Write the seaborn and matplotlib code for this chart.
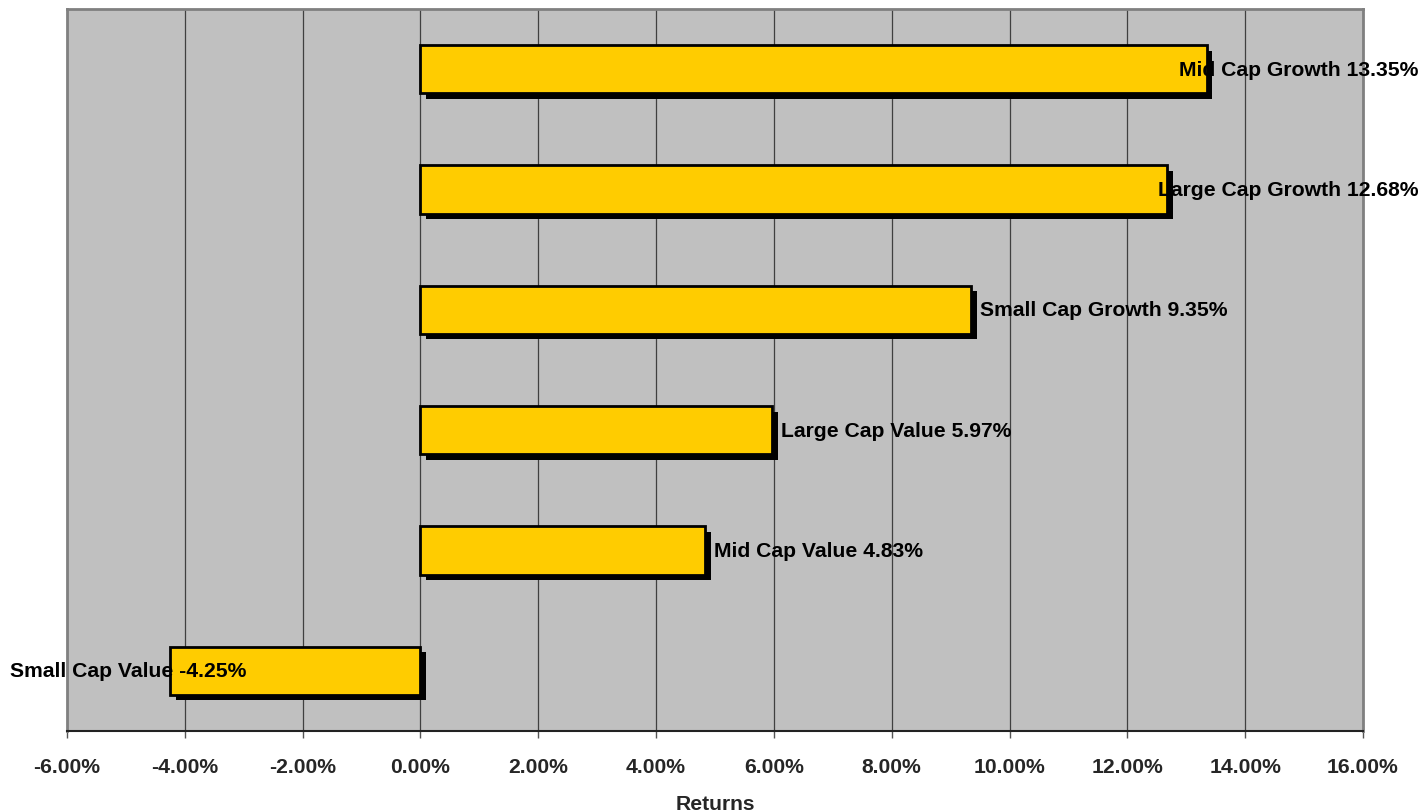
import pandas as pd
import numpy as np
import seaborn as sns
import matplotlib.pyplot as plt
import matplotlib.patheffects as pe
from matplotlib.ticker import FuncFormatter

categories = ["Mid Cap Growth", "Large Cap Growth", "Small Cap Growth",
              "Large Cap Value", "Mid Cap Value", "Small Cap Value"]
returns = [13.35, 12.68, 9.35, 5.97, 4.83, -4.25]
xticks = [-6, -4, -2, 0, 2, 4, 6, 8, 10, 12, 14, 16]

df = pd.DataFrame({"Category": categories, "Returns": returns})

sns.set_theme(style="white")
plt.rcParams['font.family'] = ['Liberation Sans', 'DejaVu Sans']
plt.rcParams['font.weight'] = 'bold'

fig = plt.figure(figsize=(14.21, 8.12), dpi=100)
ax = fig.add_axes([0.04715, 0.09852, 0.9120, 0.88916])
ax.set_facecolor("#C0C0C0")

sns.barplot(data=df, x="Returns", y="Category", orient="h", order=categories,
            color="#FFCC00", saturation=1, width=0.4, edgecolor="black",
            linewidth=2, ax=ax, zorder=3)

# drop shadow like the old excel bars
for bar in ax.patches:
    bar.set_path_effects([pe.SimplePatchShadow(offset=(4, -4), shadow_rgbFace="black", alpha=1.0),
                          pe.Normal()])

ax.set_xlim(-6, 16)
ax.set_ylim(5.5, -0.5)
ax.set_xticks(xticks)
ax.xaxis.set_major_formatter(FuncFormatter(lambda v, p: "{:.2f}%".format(v)))
ax.grid(axis="x", color="#404040", linewidth=0.9, zorder=0)
ax.set_axisbelow(True)
ax.set_yticks([])
ax.set_ylabel("")
ax.set_xlabel("Returns", fontsize=15.2, fontweight="bold", labelpad=13)
ax.tick_params(axis="x", bottom=True, length=5, width=1, color="#555555",
               labelsize=15.2, pad=14)

for s in ["left", "top", "right"]:
    ax.spines[s].set_color("#808080")
    ax.spines[s].set_linewidth(2)
ax.spines["bottom"].set_color("#222222")
ax.spines["bottom"].set_linewidth(1.5)

texts = []
for i, (c, v) in enumerate(zip(categories, returns)):
    if v >= 0:
        t = ax.text(v + 0.15, i, "{} {:.2f}%".format(c, v), ha="left", va="center",
                    fontsize=15.2, fontweight="bold", color="black", zorder=5, clip_on=False)
    else:
        t = ax.text(v - 0.15, i, "{} {:.2f}%".format(c, v), ha="right", va="center",
                    fontsize=15.2, fontweight="bold", color="black", zorder=5, clip_on=False)
    texts.append(t)

# keep labels inside the figure
fig.canvas.draw()
r = fig.canvas.get_renderer()
W = fig.bbox.width
px_per_unit = ax.transData.transform((1, 0))[0] - ax.transData.transform((0, 0))[0]
for t in texts:
    bb = t.get_window_extent(r)
    shift = 0
    if bb.x1 > W - 3:
        shift = (W - 3) - bb.x1
    elif bb.x0 < 10:
        shift = 10 - bb.x0
    if shift:
        x, y = t.get_position()
        t.set_x(x + shift / px_per_unit)

fig.savefig("out.png", dpi=100)
